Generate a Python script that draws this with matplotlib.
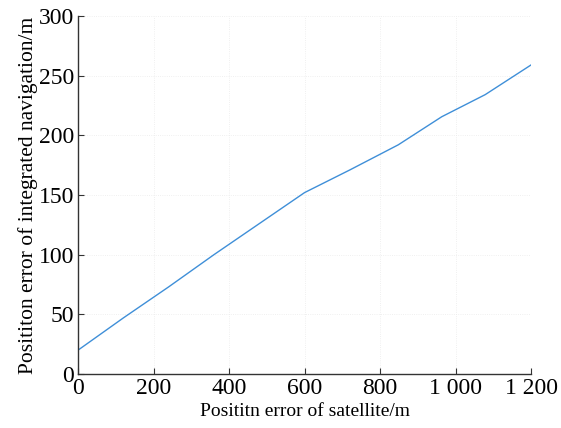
import numpy as np
import matplotlib.pyplot as plt

# Position error of satellite (m) vs integrated navigation error (m)
sat_err = [0, 120, 240, 360, 480, 600, 720, 848, 963, 1078, 1200]
nav_err = [20, 47, 73, 100, 126, 152, 171, 192, 215.5, 234, 259]

x_ticks = [0, 200, 400, 600, 800, 1000, 1200]
x_labels = ['0', '200', '400', '600', '800', '1 000', '1 200']
y_ticks = [0, 50, 100, 150, 200, 250, 300]

plt.rcParams['font.family'] = ['Liberation Serif', 'DejaVu Serif']

fig = plt.figure(figsize=(5.61, 4.28), dpi=100)
ax = fig.add_axes([0.139, 0.126, 0.808, 0.837])

ax.plot(sat_err, nav_err, color='#3f8fd8', linewidth=1.0)

ax.set_xlim(0, 1200)
ax.set_ylim(0, 300)
ax.set_xticks(x_ticks)
ax.set_xticklabels(x_labels)
ax.set_yticks(y_ticks)

ax.grid(True, color='#ebebeb', linestyle=':', linewidth=0.6)
ax.spines['top'].set_visible(False)
ax.spines['right'].set_visible(False)
for s in ['left', 'bottom']:
    ax.spines[s].set_color('#333333')
    ax.spines[s].set_linewidth(1.0)
ax.tick_params(direction='in', length=4, width=0.8, color='#333333',
               labelsize=17)
ax.tick_params(axis='x', pad=3)
ax.tick_params(axis='y', pad=3)

ax.set_xlabel('Posititn error of satellite/m', fontsize=14, labelpad=3)
ax.set_ylabel('Posititon error of integrated navigation/m', fontsize=15.5, labelpad=0)

fig.savefig('out.png', dpi=100)
